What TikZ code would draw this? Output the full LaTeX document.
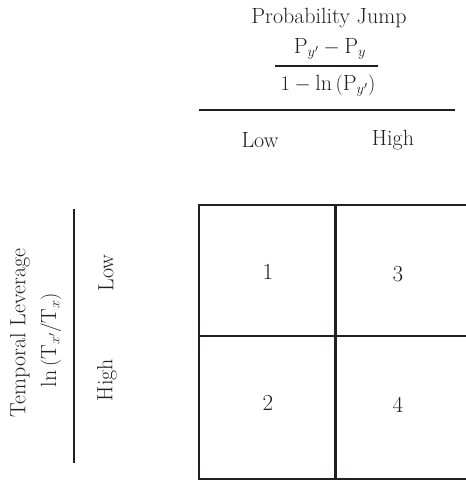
\documentclass[tikz,border=0pt]{standalone}
\usepackage{fontspec}
\definecolor{ink}{HTML}{231F20}
\begin{document}
\begin{tikzpicture}[x=1pt,y=-1pt,
  lbl/.style={inner sep=0pt,text=ink,font=\fontsize{22}{26}\selectfont},
  num/.style={inner sep=0pt,text=ink,font=\fontsize{23}{27}\selectfont},
  rulethick/.style={draw=ink,line width=2.6pt},
  gridline/.style={draw=ink,line width=2.6pt}]
\useasboundingbox (0,0) rectangle (466,480);
% top header
\node[lbl] (pj) at (329,18) {Probability Jump};
\node[lbl] (numr) at (330,49) {$\mathrm{P}_{y'}-\mathrm{P}_{y}$};
\node[lbl] (denr) at (328,86) {$1-\ln\,(\mathrm{P}_{y'})$};
\draw[draw=ink,line width=1.2pt] (275,66) -- (378,66);
\draw[rulethick] (199,110) -- (455,110);
\node[lbl] (lowc) at (260,140) {Low};
\node[lbl] (highc) at (393,140) {High};
% left header
\node[lbl,rotate=90] (tl) at (20,333) {Temporal Leverage};
\node[lbl,rotate=90] (lnt) at (51,340) {$\ln\,(\mathrm{T}_{x'}/\mathrm{T}_{x})$};
\draw[rulethick] (74,209) -- (74,463);
\node[lbl,rotate=90] (lowr) at (106,273) {Low};
\node[lbl,rotate=90] (highr) at (107,380) {High};
% grid
\draw[gridline] (199,205) rectangle (468,479);
\draw[gridline] (335.5,205) -- (335.5,479);
\draw[gridline] (199,336) -- (468,336);
\node[num] (c1) at (268,272) {1};
\node[num] (c3) at (398,274) {3};
\node[num] (c2) at (268,403) {2};
\node[num] (c4) at (398,405) {4};
\end{tikzpicture}
\end{document}
